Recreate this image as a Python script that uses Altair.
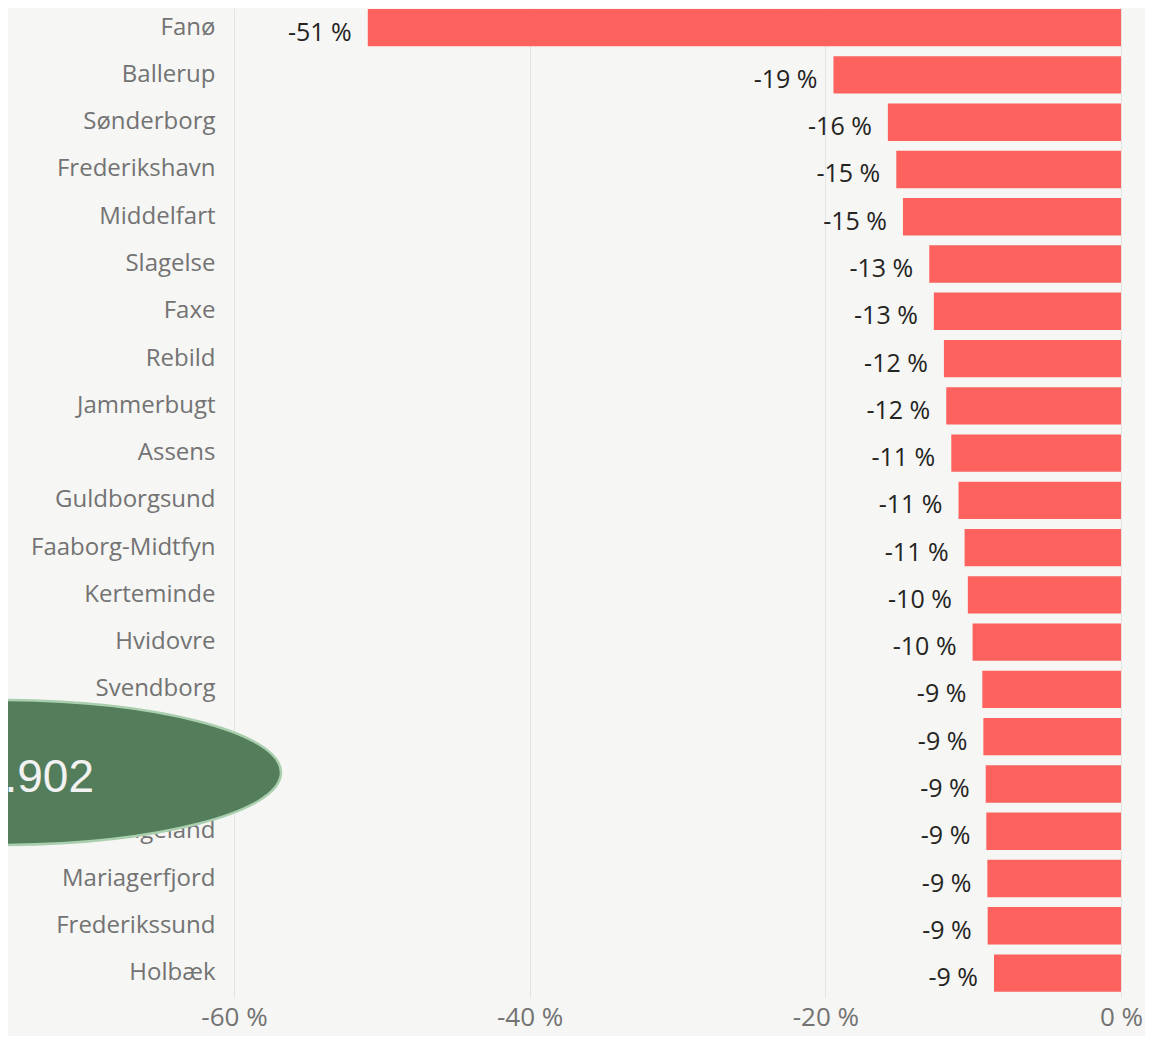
import altair as alt
import pandas as pd

# Municipalities (top to bottom) and their change in percent
names = [
    "Fanø", "Ballerup", "Sønderborg", "Frederikshavn", "Middelfart", "Slagelse",
    "Faxe", "Rebild", "Jammerbugt", "Assens", "Guldborgsund", "Faaborg-Midtfyn",
    "Kerteminde", "Hvidovre", "Svendborg", "Lolland", "Odsherred", "Langeland",
    "Mariagerfjord", "Frederikssund", "Holbæk",
]
values = [
    -50.95, -19.45, -15.77, -15.20, -14.75, -12.97,
    -12.66, -11.98, -11.82, -11.48, -10.99, -10.58,
    -10.36, -10.04, -9.38, -9.31, -9.15, -9.11,
    -9.04, -9.02, -8.59,
]
x_ticks = [-60, -40, -20, 0]
overlay_text = [".902"]

df = pd.DataFrame({
    "name": names,
    "value": values,
    "label": [f"{round(v)} %" for v in values],
})

BG = "#f6f6f4"
FONT = "Open Sans"

y_enc = alt.Y(
    "name:N",
    sort=names,
    title=None,
    scale=alt.Scale(paddingInner=0.21, paddingOuter=0.077, align=0.137),
    axis=alt.Axis(
        ticks=False, domain=False, grid=False, labelPadding=19,
        labelFontSize=24, labelFont=FONT, labelColor="#737373", labelLimit=300,
    ),
)
x_enc = alt.X(
    "value:Q",
    title=None,
    scale=alt.Scale(domain=[-60, 0], nice=False),
    axis=alt.Axis(
        values=x_ticks, ticks=False, domain=False, grid=True,
        gridColor="#e4e4e2", gridWidth=1, labelPadding=6,
        labelFontSize=26, labelFont=FONT, labelColor="#737373",
        labelExpr="datum.value + ' %'", labelFlush=False,
    ),
)

base = alt.Chart(df)

bars = base.mark_bar(color="#fd625e").encode(x=x_enc, y=y_enc)

labels = base.mark_text(
    align="right", baseline="middle", dx=-16, dy=5,
    fontSize=25, font=FONT, color="#252423",
).encode(x="value:Q", y=alt.Y("name:N", sort=names), text="label:N")

# green card overlay partly covering the chart (annotation)
ov = pd.DataFrame({"t": overlay_text})
ellipse = alt.Chart(ov).mark_point(
    shape="M -1 0 A 1 0.256 0 1 1 1 0 A 1 0.256 0 1 1 -1 0 Z",
    filled=True, fill="#537d5b", fillOpacity=1,
    stroke="#a9cfae", strokeWidth=2.5, opacity=1,
).encode(x=alt.value(-236), y=alt.value(764.5), size=alt.value(320356))

ov_text = alt.Chart(ov).mark_text(
    align="right", baseline="alphabetic", fontSize=46,
    font="Liberation Sans", color="#f2f2f2",
).encode(x=alt.value(-140), y=alt.value(783.7), text="t:N")

chart = (
    alt.layer(bars, labels, ellipse, ov_text)
    .properties(
        width=887, height=990,
        autosize=alt.AutoSizeParams(type="none"),
        padding={"left": 226, "top": 0, "right": 24, "bottom": 38},
        background=BG,
    )
    .configure_view(stroke=None)
)

chart.save("out.html", embed_options={"renderer": "svg", "actions": False})
